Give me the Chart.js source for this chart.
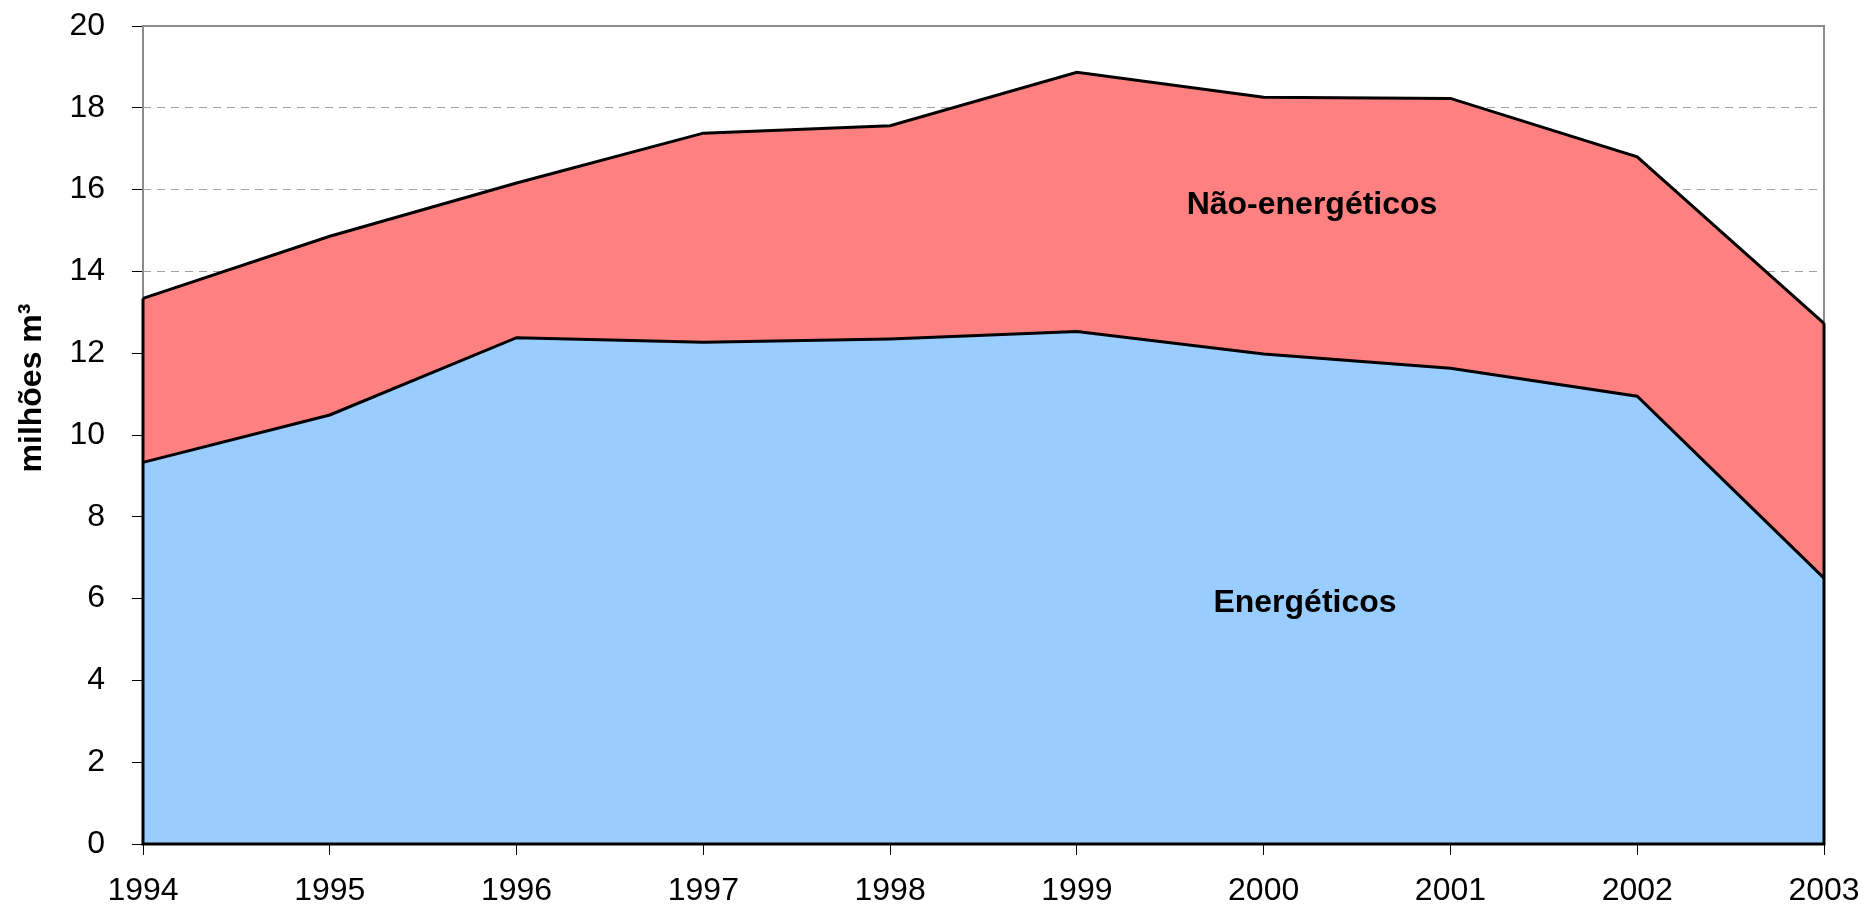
<!DOCTYPE html>
<html>
<head>
<meta charset="utf-8">
<script src="https://cdn.jsdelivr.net/npm/chart.js@4"></script>
<style>
  body { margin: 0; background: #fff; }
  #wrap { width: 1865px; height: 911px; }
</style>
</head>
<body>
<div id="wrap"><canvas id="chart"></canvas></div>
<script>
const years = ['1994', '1995', '1996', '1997', '1998', '1999', '2000', '2001', '2002', '2003'];
const energeticos = [9.33, 10.49, 12.38, 12.27, 12.35, 12.53, 11.98, 11.63, 10.95, 6.50];
const naoEnergeticos = [4.01, 4.37, 3.78, 5.11, 5.21, 6.34, 6.28, 6.60, 5.85, 6.23];
const yTicks = [0, 2, 4, 6, 8, 10, 12, 14, 16, 18, 20];

Chart.defaults.font.family = '"Liberation Sans", Arial, sans-serif';
Chart.defaults.color = '#000';

// gray frame under the areas, black edges over them, and the texts
const decor = {
  id: 'decor',
  beforeDatasetsDraw(chart) {
    const { ctx, chartArea: a } = chart;
    ctx.save();
    ctx.strokeStyle = '#8c8c8c';
    ctx.lineWidth = 2;
    ctx.strokeRect(a.left, a.top, a.right - a.left, a.bottom - a.top);
    ctx.restore();
  },
  afterDatasetsDraw(chart) {
    const { ctx, chartArea: a, scales } = chart;
    const y = scales.y;
    const last = years.length - 1;
    ctx.save();
    ctx.strokeStyle = '#000';
    ctx.lineWidth = 3;
    ctx.beginPath();
    ctx.moveTo(a.left, y.getPixelForValue(energeticos[0] + naoEnergeticos[0]));
    ctx.lineTo(a.left, a.bottom);
    ctx.lineTo(a.right, a.bottom);
    ctx.lineTo(a.right, y.getPixelForValue(energeticos[last] + naoEnergeticos[last]));
    ctx.stroke();

    ctx.fillStyle = '#000';
    ctx.font = 'bold 32px "Liberation Sans", Arial, sans-serif';
    ctx.textAlign = 'center';
    ctx.textBaseline = 'alphabetic';
    ctx.fillText('Não-energéticos', 1312, 214);
    ctx.fillText('Energéticos', 1305, 612);

    ctx.translate(32, 388);
    ctx.rotate(-Math.PI / 2);
    ctx.textBaseline = 'middle';
    ctx.fillText('milhões m³', 0, 0);
    ctx.restore();
  }
};

new Chart(document.getElementById('chart'), {
  type: 'line',
  data: {
    labels: years,
    datasets: [
      {
        label: 'Energéticos',
        data: energeticos,
        backgroundColor: '#99ccff',
        borderColor: '#000',
        borderWidth: 3,
        fill: 'origin',
        pointRadius: 0,
        tension: 0
      },
      {
        label: 'Não-energéticos',
        data: naoEnergeticos,
        backgroundColor: '#ff8080',
        borderColor: '#000',
        borderWidth: 3,
        fill: '-1',
        pointRadius: 0,
        tension: 0
      }
    ]
  },
  options: {
    responsive: true,
    maintainAspectRatio: false,
    animation: false,
    layout: { padding: { top: 26, right: 41, left: 0, bottom: 0 } },
    plugins: {
      legend: { display: false },
      tooltip: { enabled: false }
    },
    scales: {
      x: {
        offset: false,
        grid: {
          display: true,
          drawOnChartArea: false,
          tickLength: 11,
          tickColor: '#000',
          tickWidth: 1
        },
        border: { display: false },
        ticks: {
          font: { size: 32 },
          padding: 17,
          maxRotation: 0,
          autoSkip: false
        },
        afterFit(scale) {
          scale.height = 67;
          scale.paddingLeft = 0;
          scale.paddingRight = 0;
        }
      },
      y: {
        stacked: true,
        min: 0,
        max: 20,
        afterBuildTicks(scale) {
          scale.ticks = yTicks.map(v => ({ value: v }));
        },
        grid: {
          color: '#a0a0a0',
          lineWidth: 1,
          tickLength: 11,
          tickColor: '#000',
          tickWidth: 1,
          tickBorderDash: []
        },
        border: { display: false, dash: [8, 6] },
        ticks: {
          font: { size: 32 },
          padding: 27
        },
        afterFit(scale) {
          scale.width = 143;
          scale.paddingTop = 0;
          scale.paddingBottom = 0;
        }
      }
    }
  },
  plugins: [decor]
});
</script>
</body>
</html>
